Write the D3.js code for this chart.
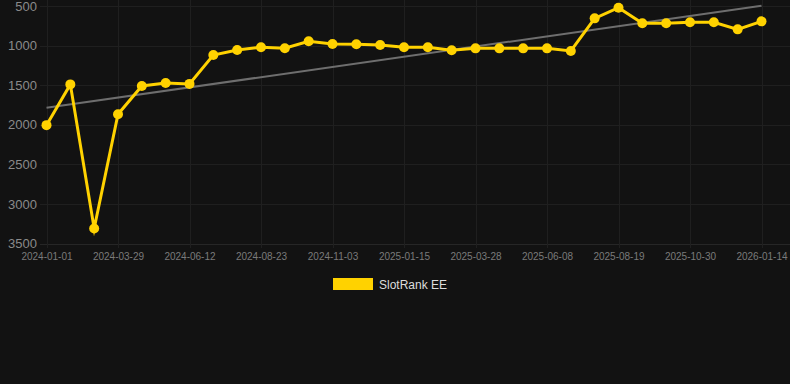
<!DOCTYPE html>
<html><head><meta charset="utf-8">
<script src="https://cdn.jsdelivr.net/npm/d3@7"></script>
<style>
html,body{margin:0;padding:0;background:#121212;}
svg{display:block;font-family:"Liberation Sans",Arial,sans-serif;}
</style></head>
<body>
<svg id="chart" width="790" height="384"></svg>
<script>
// Categories (every 3rd label is shown on the axis)
const categories = [
  "2024-01-01","2024-01-30","2024-02-28","2024-03-29","2024-04-23","2024-05-18",
  "2024-06-12","2024-07-06","2024-07-30","2024-08-23","2024-09-16","2024-10-10",
  "2024-11-03","2024-11-27","2024-12-21","2025-01-15","2025-02-08","2025-03-04",
  "2025-03-28","2025-04-21","2025-05-15","2025-06-08","2025-07-02","2025-07-26",
  "2025-08-19","2025-09-12","2025-10-06","2025-10-30","2025-11-23","2025-12-18",
  "2026-01-14"
];
const rankValues = [
  2005, 1490, 3310, 1867, 1510, 1473, 1484, 1119, 1056, 1020, 1034, 946,
  980, 984, 993, 1022, 1022, 1060, 1035, 1035, 1035, 1035, 1068, 656,
  521, 719, 719, 706, 706, 795, 694
];
const trendValues = [1786, 496];
const yTicks = [500, 1000, 1500, 2000, 2500, 3000, 3500];
const seriesName = "SlotRank EE";

const svg = d3.select("#chart");
const W = 790, H = 384;
svg.append("rect").attr("width", W).attr("height", H).attr("fill", "#121212");

const x = d3.scalePoint().domain(d3.range(categories.length)).range([46.5, 761.5]);
const y = d3.scaleLinear().domain([500, 3500]).range([6, 243.5]);

const gridColor = "#1f1f1f";
// horizontal grid
svg.append("g").selectAll("line").data(yTicks).join("line")
  .attr("x1", 40).attr("x2", 790)
  .attr("y1", d => Math.round(y(d)) + 0.5).attr("y2", d => Math.round(y(d)) + 0.5)
  .attr("stroke", d => d === 3500 ? "#262626" : gridColor).attr("stroke-width", 1);
// vertical grid (at labelled categories)
const tickIdx = d3.range(0, categories.length, 3);
svg.append("g").selectAll("line").data(tickIdx).join("line")
  .attr("x1", d => Math.round(x(d)) + 0.5).attr("x2", d => Math.round(x(d)) + 0.5)
  .attr("y1", 0).attr("y2", 248)
  .attr("stroke", gridColor).attr("stroke-width", 1);

// y axis labels
const yAxis = d3.axisLeft(y).tickValues(yTicks).tickSize(0).tickPadding(0).tickFormat(d3.format("d"));
const gy = svg.append("g").attr("transform", "translate(37,0)").call(yAxis);
gy.select(".domain").remove();
gy.selectAll("text").attr("fill", "#8a8a8a").attr("font-size", 13)
  .attr("font-family", "Liberation Sans, Arial, sans-serif");

// x axis labels
const xAxis = d3.axisBottom(x).tickValues(tickIdx).tickSize(0).tickPadding(0)
  .tickFormat(i => categories[i]);
const gx = svg.append("g").attr("transform", "translate(0,253)").call(xAxis);
gx.select(".domain").remove();
gx.selectAll("text").attr("fill", "#7a7a7a").attr("font-size", 10)
  .attr("font-family", "Liberation Sans, Arial, sans-serif");

// trend line
svg.append("line")
  .attr("x1", x(0)).attr("y1", y(trendValues[0]))
  .attr("x2", x(categories.length - 1)).attr("y2", y(trendValues[1]))
  .attr("stroke", "#6e6e6e").attr("stroke-width", 2);

// series line
const line = d3.line().x((d, i) => x(i)).y(d => y(d));
svg.append("path").datum(rankValues)
  .attr("d", line).attr("fill", "none")
  .attr("stroke", "#FFD200").attr("stroke-width", 3)
  .attr("stroke-linejoin", "miter").attr("stroke-miterlimit", 10);
svg.append("g").selectAll("circle").data(rankValues).join("circle")
  .attr("cx", (d, i) => x(i)).attr("cy", d => y(d)).attr("r", 5)
  .attr("fill", "#FFD200");

// legend
svg.append("rect").attr("x", 333).attr("y", 278).attr("width", 40).attr("height", 12)
  .attr("fill", "#FFD200");
svg.append("text").attr("x", 379).attr("y", 288.5).text(seriesName)
  .attr("fill", "#dddddd").attr("font-size", 12);
</script>
</body></html>
